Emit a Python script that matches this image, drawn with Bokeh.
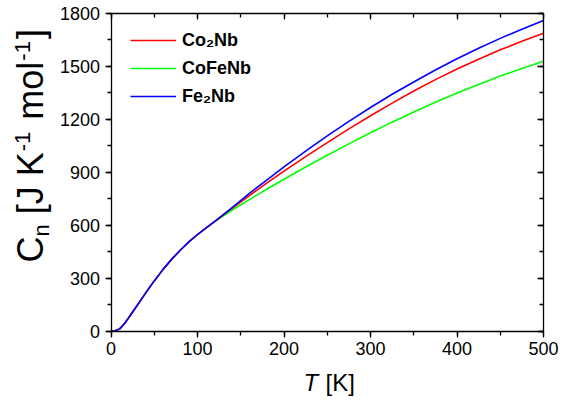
from bokeh.plotting import figure
from bokeh.models import (LinearAxis, SingleIntervalTicker, Range1d, Label,
                          Legend, LegendItem, CustomJSTickFormatter)
from bokeh.embed import file_html
from bokeh.resources import INLINE

# ---------------- data ----------------
temperature = [0, 5, 10, 15, 20, 25, 30, 40, 50, 60, 70, 80, 90, 100, 110,
               120, 130, 140, 160, 180, 200, 225, 250, 275, 300, 325, 350,
               375, 400, 425, 450, 475, 500]
co2nb = [0, 1.5, 12, 38, 72, 108, 143, 215, 284, 348, 406, 458, 505, 547, 585,
         622, 659, 696, 768, 838, 906, 989, 1068, 1146, 1220, 1292, 1361,
         1425, 1485, 1541, 1594, 1642, 1688]
cofenb = [0, 1.5, 12, 38, 72, 108, 143, 215, 284, 348, 406, 458, 505, 547, 585,
          620, 653, 686, 745, 804, 860, 930, 996, 1061, 1124, 1184, 1242,
          1297, 1349, 1398, 1445, 1488, 1529]
fe2nb = [0, 1.5, 12, 38, 72, 108, 143, 215, 284, 348, 406, 458, 505, 547, 585,
         622, 660, 700, 780, 856, 931, 1020, 1106, 1188, 1267, 1342, 1412,
         1480, 1543, 1603, 1659, 1711, 1760]

series_names = ["Co\u2082Nb", "CoFeNb", "Fe\u2082Nb"]
series_colors = ["#ff0000", "#00ff00", "#0000ff"]

x_min, x_max, x_tick_interval = 0, 500, 100
y_min, y_max, y_tick_interval = 0, 1800, 300

FONT = "Liberation Sans"

# ---------------- layout: the frame fills the canvas, axes are pinned ----------------
W, H = 575, 401
box_left, box_right, box_top, box_bottom = 110.5, 543.0, 13.0, 330.5   # pixels
kx = (box_right - box_left) / (x_max - x_min)
ky = (box_bottom - box_top) / (y_max - y_min)
xr = Range1d(x_min - box_left / kx, x_max + (W - box_right) / kx)
yr = Range1d(y_min - (H - box_bottom) / ky, y_max + box_top / ky)

p = figure(width=W, height=H, x_range=xr, y_range=yr, title=None,
           output_backend="svg", toolbar_location=None,
           x_axis_location=None, y_axis_location=None,
           min_border=0, min_border_left=0, min_border_right=0,
           min_border_top=0, min_border_bottom=0)
p.xgrid.visible = False
p.ygrid.visible = False
p.outline_line_color = None
p.background_fill_color = "white"
p.border_fill_color = "white"

xt = SingleIntervalTicker(interval=x_tick_interval, num_minor_ticks=2)
yt = SingleIntervalTicker(interval=y_tick_interval, num_minor_ticks=2)

def make_axis(ticker, loc, bounds, outward, labels):
    ax = LinearAxis(ticker=ticker, fixed_location=loc, bounds=bounds)
    ax.axis_line_color = "black"
    ax.axis_line_width = 1.3
    ax.major_tick_line_color = "black"
    ax.minor_tick_line_color = "black"
    ax.major_tick_line_width = 1.3
    ax.minor_tick_line_width = 1.3
    if outward:
        ax.major_tick_out, ax.major_tick_in = 6, 0
        ax.minor_tick_out, ax.minor_tick_in = 4, 0
    else:
        ax.major_tick_out, ax.major_tick_in = 0, 6
        ax.minor_tick_out, ax.minor_tick_in = 0, 4
    ax.major_label_text_font = FONT
    ax.major_label_text_font_size = "18px"
    ax.major_label_text_color = "black"
    ax.major_label_standoff = 5
    if not labels:
        ax.formatter = CustomJSTickFormatter(code="return ''")
    ax.axis_label = None
    return ax

p.add_layout(make_axis(xt, y_min, (x_min, x_max), True, True), "below")
p.add_layout(make_axis(yt, x_min, (y_min, y_max), True, True), "left")
p.add_layout(make_axis(xt, y_max, (x_min, x_max), False, False), "above")
p.add_layout(make_axis(yt, x_max, (y_min, y_max), False, False), "right")

# ---------------- axis titles (built from text pieces) ----------------
ARIAL = {' ': 278, '[': 278, ']': 278, 'J': 500, 'K': 667, 'C': 722, 'n': 556,
         'm': 833, 'o': 556, 'l': 222, '-': 333, '1': 556, 'T': 611}

def adv(s, size):
    return sum(ARIAL[c] for c in s) * size / 1000.0

BASE_SHIFT = 0.33   # measured offset of the anchor from the baseline (em)

F = 36
S = 22
# (text, size, perpendicular shift of baseline, gap after piece)
y_pieces = [("C", F, 0, 0), ("n", S, 6, adv(" ", F)), ("[J K", F, 0, 1),
            ("-1", S, -13, adv(" ", F) + 2), ("mol", F, 0, 1),
            ("-1", S, -13, 2), ("]", F, 0, 0)]
baseline_px = 42.0          # x pixel of the rotated title's baseline
pos = box_bottom - 262      # where the title starts (pixels above the x axis)
for txt, size, shift, gap in y_pieces:
    anchor_x = baseline_px + shift - BASE_SHIFT * size
    p.add_layout(Label(x=x_min, y=y_min, x_offset=anchor_x - box_left, y_offset=pos,
                       text=txt, angle=90, angle_units="deg",
                       text_font=FONT, text_font_size=f"{size}px",
                       text_color="black", text_align="left",
                       text_baseline="alphabetic"))
    pos += adv(txt, size) + gap

XF = 24
x_base_px = 390.0
p.add_layout(Label(x=x_min, y=y_min, x_offset=303 - box_left,
                   y_offset=box_bottom - (x_base_px - BASE_SHIFT * XF),
                   text="T", text_font=FONT, text_font_size=f"{XF}px",
                   text_font_style="italic", text_color="black",
                   text_align="left", text_baseline="alphabetic"))
p.add_layout(Label(x=x_min, y=y_min, x_offset=325 - box_left,
                   y_offset=box_bottom - (x_base_px - BASE_SHIFT * XF),
                   text="[K]", text_font=FONT, text_font_size=f"{XF}px",
                   text_color="black", text_align="left", text_baseline="alphabetic"))

# ---------------- curves ----------------
r_green = p.line(temperature, cofenb, line_color=series_colors[1], line_width=1.6)
r_red = p.line(temperature, co2nb, line_color=series_colors[0], line_width=1.6)
r_blue = p.line(temperature, fe2nb, line_color=series_colors[2], line_width=1.6)

legend = Legend(items=[LegendItem(label=series_names[0], renderers=[r_red]),
                       LegendItem(label=series_names[1], renderers=[r_green]),
                       LegendItem(label=series_names[2], renderers=[r_blue])],
                location=(130, H - 107), glyph_width=46, glyph_height=22,
                label_height=22, label_standoff=6, spacing=6, padding=0, margin=0,
                label_text_font=FONT, label_text_font_style="bold",
                label_text_font_size="18px", label_text_color="black",
                border_line_alpha=0, background_fill_alpha=0)
p.add_layout(legend)

open("out.html", "w").write(file_html(p, INLINE))
